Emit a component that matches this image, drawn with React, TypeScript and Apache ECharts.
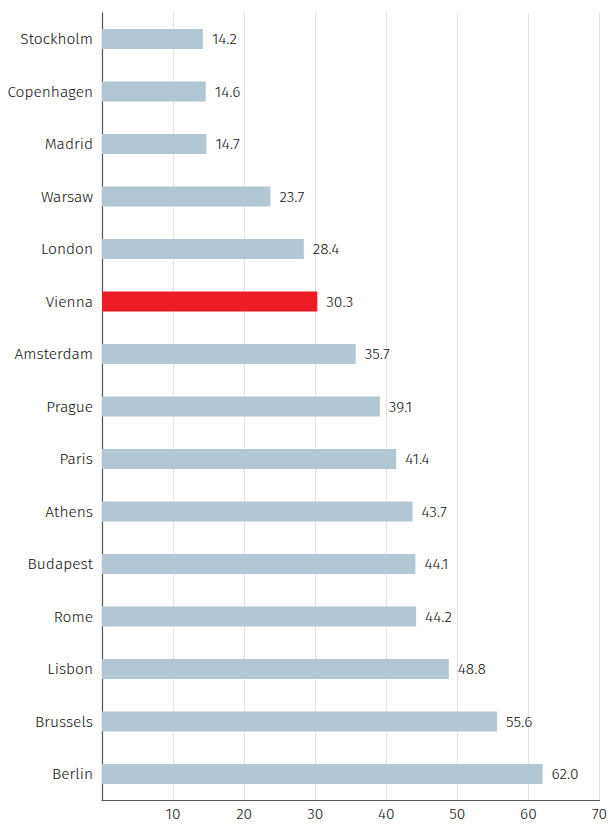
import React, { useEffect, useRef } from "react";
import * as echarts from "echarts";

const categories = ["Stockholm", "Copenhagen", "Madrid", "Warsaw", "London", "Vienna", "Amsterdam", "Prague", "Paris", "Athens", "Budapest", "Rome", "Lisbon", "Brussels", "Berlin"];
const values = [14.2, 14.6, 14.7, 23.7, 28.4, 30.3, 35.7, 39.1, 41.4, 43.7, 44.1, 44.2, 48.8, 55.6, 62.0];
const highlight = "Vienna";
const xTicks = { min: 0, max: 70, interval: 10 };

export default function App() {
  const ref = useRef<HTMLDivElement>(null);
  useEffect(() => {
    document.body.style.margin = "0";
    const chart = echarts.init(ref.current!, null, { renderer: "svg" });
    const font = "'Fira Sans', 'Open Sans', sans-serif";
    const fw = 300;
    const fs = 15.5;
    const txt = "#111111";
    chart.setOption({
      animation: false,
      grid: { left: 102, right: 8, top: 12.75, bottom: 23.75, containLabel: false },
      xAxis: {
        type: "value",
        min: xTicks.min,
        max: xTicks.max,
        interval: xTicks.interval,
        axisLine: { show: true, lineStyle: { color: "#555", width: 1.2 } },
        axisTick: { show: false },
        axisLabel: { showMinLabel: false, color: txt, fontSize: fs, fontWeight: fw, fontFamily: font, margin: 6 },
        splitLine: { show: true, lineStyle: { color: "#e3e3e3", width: 1 } },
      },
      yAxis: {
        type: "category",
        data: categories,
        inverse: true,
        axisLine: { show: true, lineStyle: { color: "#555", width: 1.2 } },
        axisTick: { show: false },
        axisLabel: { color: txt, fontSize: fs, fontWeight: fw, fontFamily: font, margin: 9 },
        splitLine: { show: false },
      },
      series: [
        {
          type: "bar",
          barWidth: 20,
          data: values.map((v, i) => ({
            value: v,
            itemStyle: { color: categories[i] === highlight ? "#ee1c25" : "#b3c6d3" },
          })),
          label: {
            show: true,
            position: "right",
            distance: 9,
            color: txt,
            fontSize: fs,
            fontWeight: fw,
            fontFamily: font,
            formatter: (p: any) => Number(p.value).toFixed(1),
          },
        },
      ],
    });
    return () => chart.dispose();
  }, []);
  return <div ref={ref} style={{ width: 610, height: 824 }} />;
}
